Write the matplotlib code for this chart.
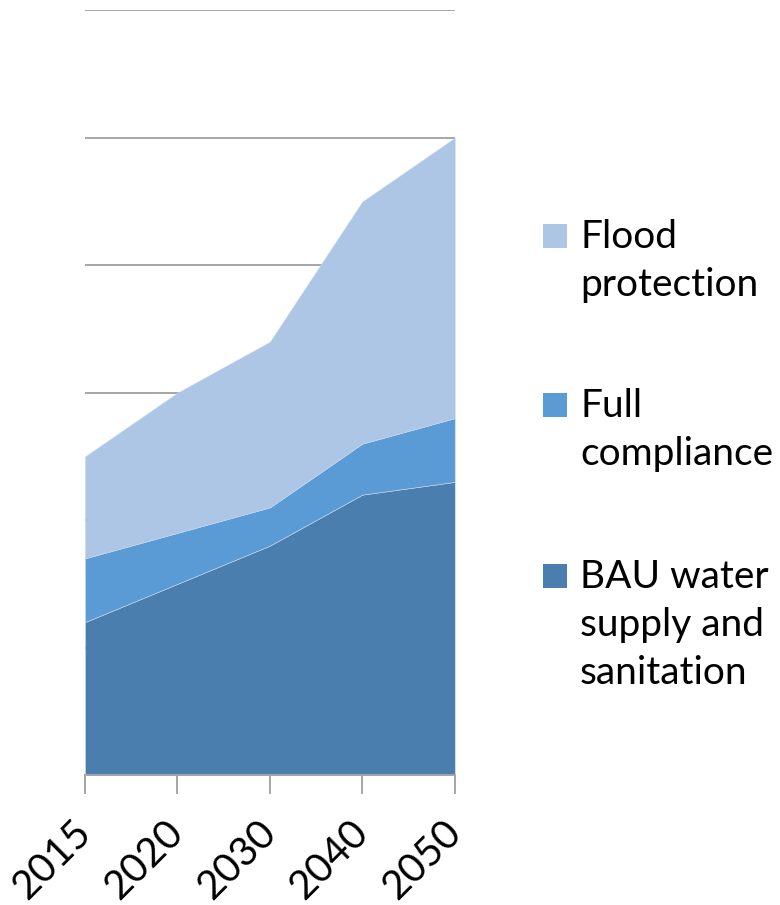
import matplotlib
matplotlib.use("Agg")
import matplotlib.pyplot as plt
from matplotlib.patches import Rectangle
from matplotlib.transforms import ScaledTranslation
import numpy as np

plt.rcParams['font.family'] = ['Lato', 'DejaVu Sans']

years = ['2015', '2020', '2030', '2040', '2050']
bau = [1.2, 1.5, 1.8, 2.2, 2.3]
full_compliance = [0.5, 0.4, 0.3, 0.4, 0.5]
flood_protection = [0.8, 1.1, 1.3, 1.9, 2.2]

series_labels = ['BAU water\nsupply and\nsanitation', 'Full\ncompliance', 'Flood\nprotection']
colors = ['#4A7EAF', '#5B9BD5', '#ADC6E5']

fig = plt.figure(figsize=(7.8, 9.05), dpi=100)
ax = fig.add_axes([0.109, 0.1436, 0.474, 0.845])

x = np.arange(len(years))
ax.stackplot(x, bau, full_compliance, flood_protection, colors=colors,
             edgecolor='#C9D9EE', linewidth=0.4, zorder=2)

ax.set_xlim(0, len(years) - 1)
ax.set_ylim(0, 6)
ax.set_yticks(np.arange(0, 7, 1))
ax.yaxis.grid(True, color='#A6A6A6', linewidth=1.4, zorder=0)
ax.set_axisbelow(True)
ax.tick_params(axis='y', left=False, labelleft=False)

ax.set_xticks(x)
ax.set_xticklabels(years, fontsize=29, rotation=45, ha='right', va='baseline',
                   rotation_mode='anchor')
ax.tick_params(axis='x', direction='out', length=14, width=1.4, color='#A6A6A6', pad=29)
shift = ScaledTranslation(0.08, 0, fig.dpi_scale_trans)
for lbl in ax.get_xticklabels():
    lbl.set_transform(lbl.get_transform() + shift)

for side in ['top', 'right', 'left']:
    ax.spines[side].set_visible(False)
ax.spines['bottom'].set_color('#A6A6A6')
ax.spines['bottom'].set_linewidth(1.4)

# legend drawn as colour squares with wrapped labels, top entry first
W, H = 780, 905
entry_tops = [223, 392, 563]
for label, color, top in zip(series_labels[::-1], colors[::-1], entry_tops):
    fig.patches.append(Rectangle((543 / W, 1 - (top + 25) / H), 24 / W, 24 / H,
                                 transform=fig.transFigure, facecolor=color,
                                 edgecolor='none'))
    fig.text(580 / W, 1 - (top - 4) / H, label, fontsize=28, ha='left', va='top',
             linespacing=1.42)

fig.savefig('out.png', dpi=100)
